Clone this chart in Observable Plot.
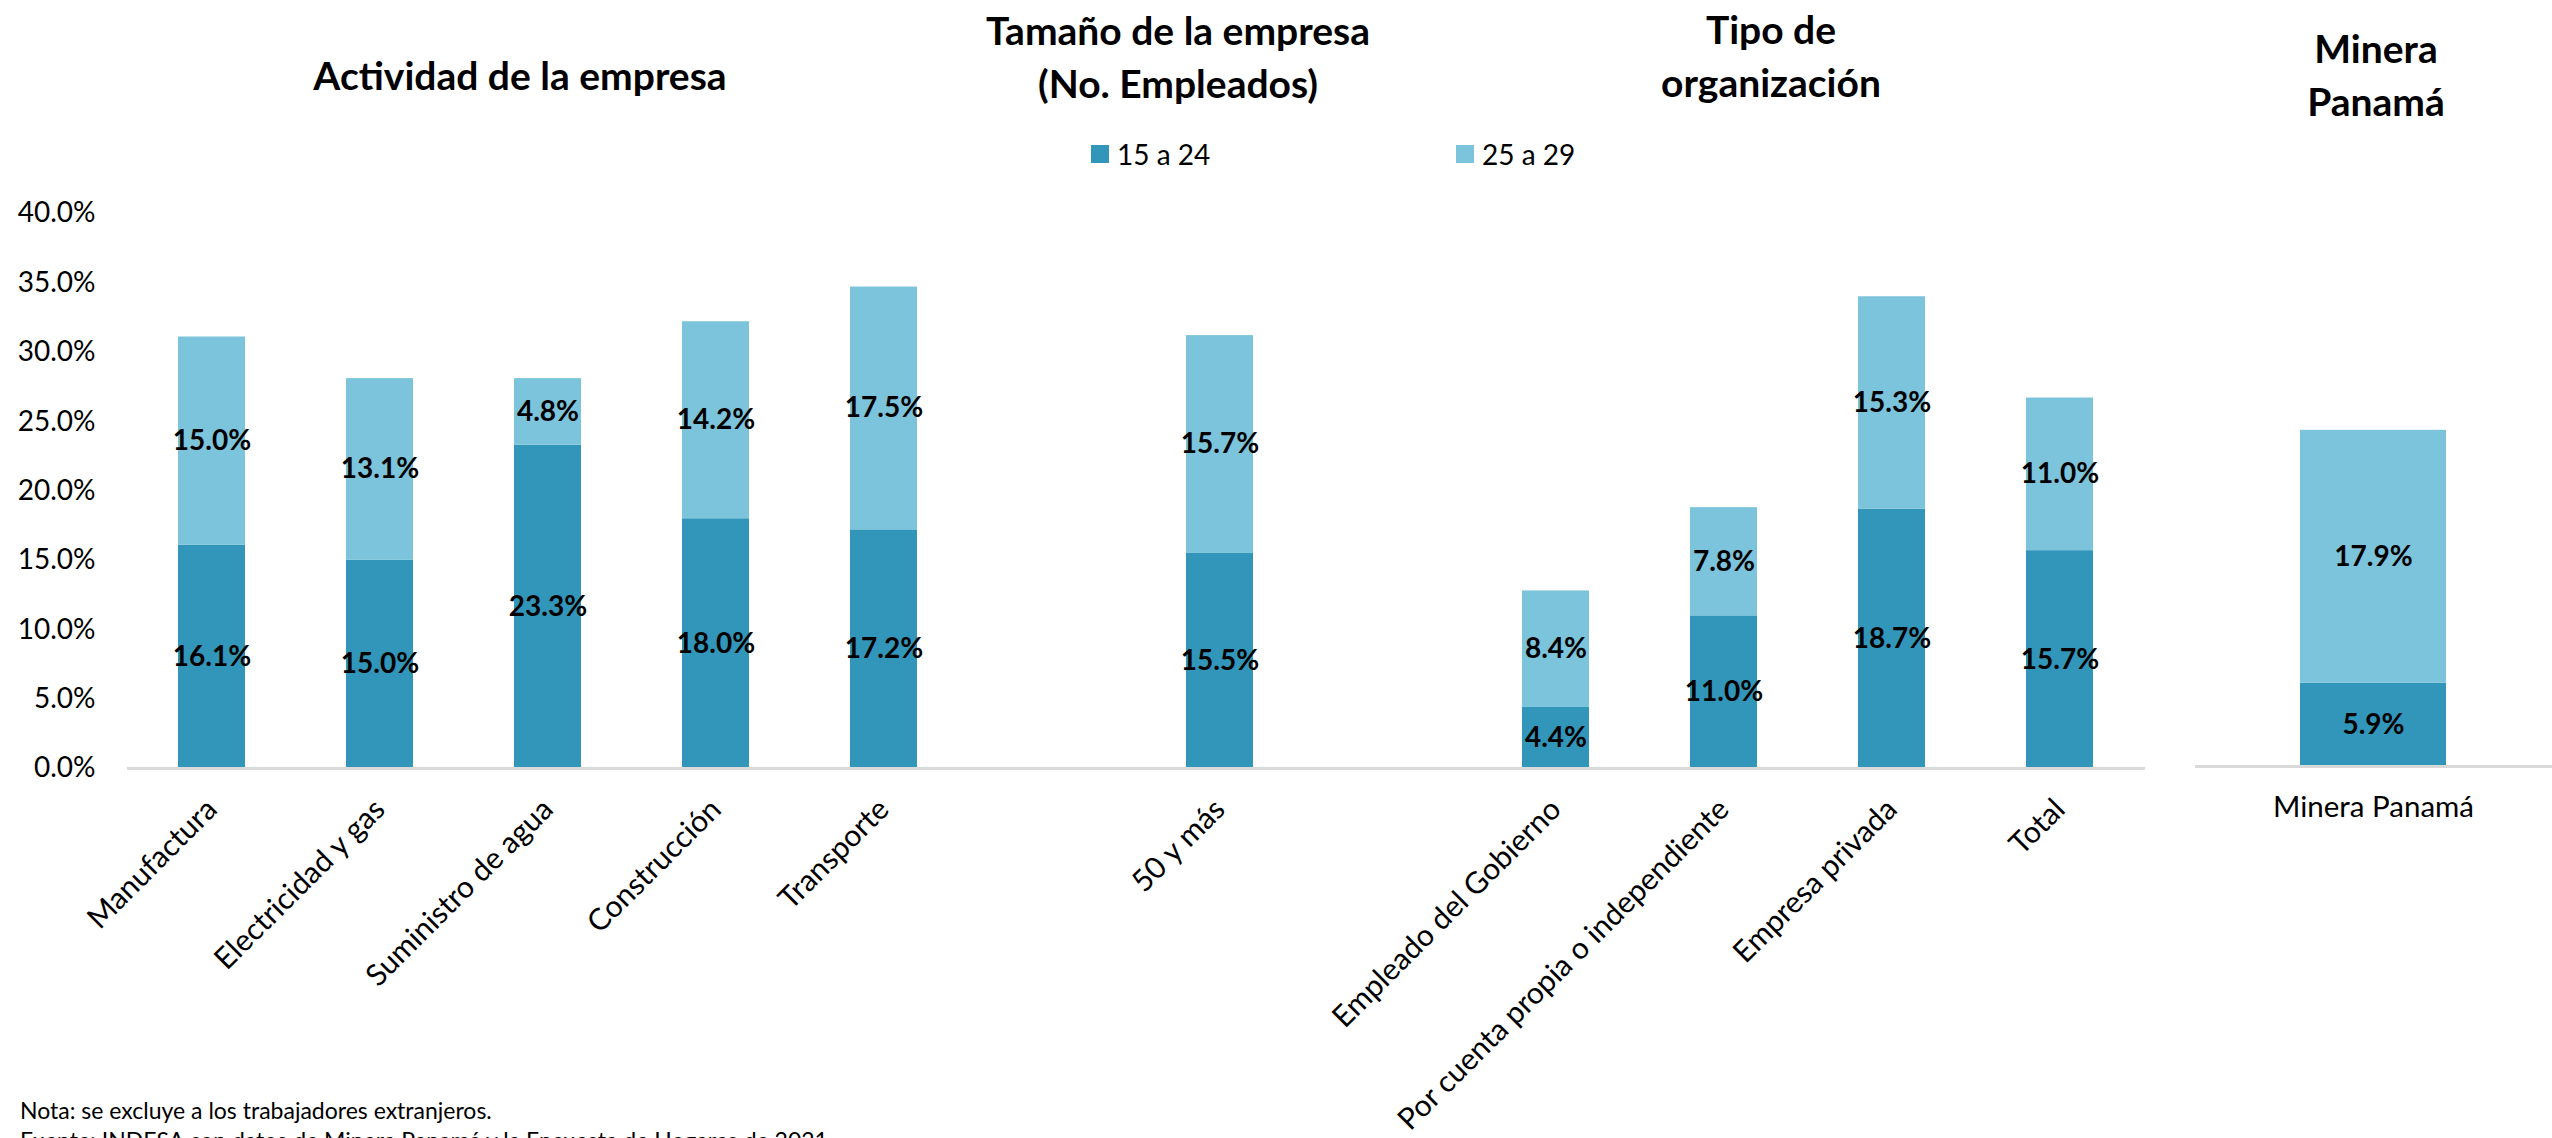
<!DOCTYPE html>
<html>
<head>
<meta charset="utf-8">
<script src="https://cdn.jsdelivr.net/npm/d3@7"></script>
<script src="https://cdn.jsdelivr.net/npm/@observablehq/plot@0.6"></script>
<style>
  html, body { margin: 0; padding: 0; background: #ffffff; }
  #page { position: relative; width: 2552px; height: 1138px; overflow: hidden; font-family: Lato, "Open Sans", sans-serif; color: #000; }
  .title { position: absolute; transform: translate(-50%, -50%); text-align: center; font-weight: bold; font-size: 39px; line-height: 53px; white-space: nowrap; }
  .legend-item { position: absolute; display: flex; align-items: center; font-size: 28px; line-height: 28px; transform: translateY(-50%); }
  .swatch { width: 18px; height: 18px; margin-right: 8px; }
  #caption { position: absolute; left: 20px; top: 1095px; font-size: 23px; line-height: 30px; white-space: nowrap; }
  .plotwrap { position: absolute; top: 180px; }
</style>
</head>
<body>
<div id="page">
  <div class="title" style="left:520px; top:75px;">Actividad de la empresa</div>
  <div class="title" style="left:1178px; top:57px;">Tamaño de la empresa<br>(No. Empleados)</div>
  <div class="title" style="left:1771px; top:56px;">Tipo de<br>organización</div>
  <div class="title" style="left:2376px; top:75px;">Minera<br>Panamá</div>
  <div id="legend"></div>
  <div class="plotwrap" id="main" style="left:0px;"></div>
  <div class="plotwrap" id="minera" style="left:2170px;"></div>
  <div id="caption">Nota: se excluye a los trabajadores extranjeros.<br>Fuente: INDESA con datos de Minera Panamá y la Encuesta de Hogares de 2021.</div>
</div>
<script>
// ---- data ----
const series = ["15 a 24", "25 a 29"];
const colors = ["#3196b9", "#7cc4db"];
const categories = ["Manufactura", "Electricidad y gas", "Suministro de agua", "Construcción", "Transporte",
  "50 y más", "Empleado del Gobierno", "Por cuenta propia o independiente", "Empresa privada", "Total"];
const age15to24 = [16.1, 15.0, 23.3, 18.0, 17.2, 15.5, 4.4, 11.0, 18.7, 15.7];
const age25to29 = [15.0, 13.1, 4.8, 14.2, 17.5, 15.7, 8.4, 7.8, 15.3, 11.0];
const mineraCategory = ["Minera Panamá"];
const mineraAge15to24 = [5.9];
const mineraAge25to29 = [17.9];
const yTicks = [0, 5, 10, 15, 20, 25, 30, 35, 40];
// x domain with two empty slots separating the groups
const xDomain = [...categories.slice(0, 5), "·gap1", categories[5], "·gap2", ...categories.slice(6)];

function rowsFrom(cats, a, b) {
  const rows = [];
  cats.forEach((c, i) => {
    rows.push({cat: c, series: series[0], value: a[i]});
    rows.push({cat: c, series: series[1], value: b[i]});
  });
  return rows;
}
const mainRows = rowsFrom(categories, age15to24, age25to29);
const mineraRows = rowsFrom(mineraCategory, mineraAge15to24, mineraAge25to29);
const pct = d => d.toFixed(1) + "%";

// ---- legend ----
const legend = document.getElementById("legend");
const legendX = [1091, 1456];
series.forEach((s, i) => {
  const item = document.createElement("div");
  item.className = "legend-item";
  item.style.left = legendX[i] + "px";
  item.style.top = "154px";
  item.innerHTML = `<div class="swatch" style="background:${colors[i]}"></div><span>${s}</span>`;
  legend.appendChild(item);
});

// ---- main chart ----
const main = Plot.plot({
  width: 2160,
  height: 915,
  marginLeft: 127,
  marginRight: 15,
  marginTop: 33,
  marginBottom: 327,
  style: {fontFamily: "Lato, 'Open Sans', sans-serif", fontSize: "28px", color: "#000", overflow: "visible", background: "transparent"},
  x: {domain: xDomain, paddingInner: 0.6, paddingOuter: 0.3, label: null},
  y: {domain: [0, 40], label: null},
  color: {domain: series, range: colors},
  marks: [
    Plot.barY(mainRows, Plot.stackY({x: "cat", y: "value", fill: "series"})),
    Plot.text(mainRows, Plot.stackY({x: "cat", y: "value", text: d => pct(d.value), fontSize: 28, fontWeight: "bold", fill: "#000"})),
    Plot.ruleY([0], {stroke: "#d9d9d9", strokeWidth: 3}),
    Plot.axisY({ticks: yTicks, tickSize: 0, tickPadding: 32, tickFormat: pct, fontSize: 28, label: null}),
    Plot.axisX({ticks: categories, tickSize: 0, tickPadding: 36, tickRotate: -45, fontSize: 30, label: null})
  ]
});
document.getElementById("main").appendChild(main);

// ---- Minera panel ----
const minera = Plot.plot({
  width: 382,
  height: 915,
  marginLeft: 25,
  marginRight: 0,
  marginTop: 21,
  marginBottom: 329,
  style: {fontFamily: "Lato, 'Open Sans', sans-serif", fontSize: "28px", color: "#000", overflow: "visible", background: "transparent"},
  x: {domain: mineraCategory, padding: 0.417, label: null},
  y: {domain: [0, 40], label: null, axis: null},
  color: {domain: series, range: colors},
  marks: [
    Plot.barY(mineraRows, Plot.stackY({x: "cat", y: "value", fill: "series"})),
    Plot.text(mineraRows, Plot.stackY({x: "cat", y: "value", text: d => pct(d.value), fontSize: 28, fontWeight: "bold", fill: "#000"})),
    Plot.ruleY([0], {stroke: "#d9d9d9", strokeWidth: 3}),
    Plot.axisX({tickSize: 0, tickPadding: 30, fontSize: 29.5, label: null})
  ]
});
document.getElementById("minera").appendChild(minera);
</script>
</body>
</html>
